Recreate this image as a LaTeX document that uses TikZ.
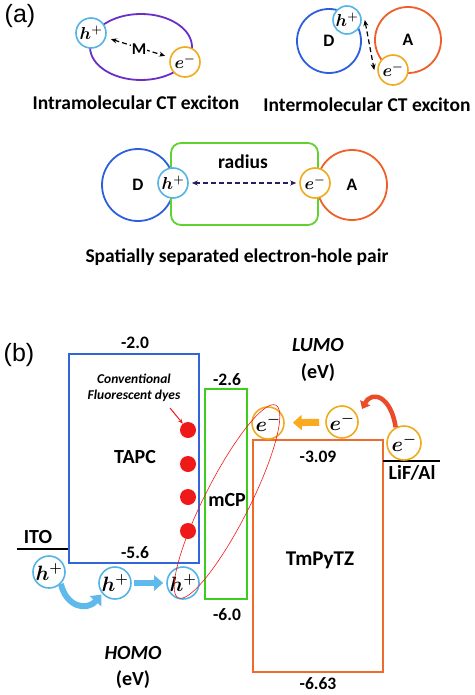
\documentclass[tikz,border=0pt]{standalone}
\usepackage{fontspec}
\setmainfont{Carlito}
\newfontfamily\arialf{Liberation Sans}
\usetikzlibrary{arrows.meta}
\definecolor{holec}{RGB}{85,180,230}
\definecolor{elecc}{RGB}{240,170,30}
\definecolor{purp}{RGB}{105,45,200}
\definecolor{dblue}{RGB}{45,95,220}
\definecolor{aorange}{RGB}{240,95,40}
\definecolor{rgreen}{RGB}{95,210,45}
\definecolor{tapcc}{RGB}{50,100,220}
\definecolor{mcpc}{RGB}{60,205,30}
\definecolor{tmpc}{RGB}{240,105,45}
\definecolor{dotc}{RGB}{240,25,25}
\definecolor{navy}{RGB}{40,30,90}
\definecolor{barc}{RGB}{95,185,235}
\definecolor{oarc}{RGB}{250,170,30}
\definecolor{rcurve}{RGB}{235,75,40}
\begin{document}
\begin{tikzpicture}[x=1pt,y=-1pt,
  hole/.style={circle, draw=holec, line width=1.6pt, fill=white, minimum size=30pt, inner sep=0pt, font=\boldmath\fontsize{18.5}{18.5}\selectfont},
  elec/.style={circle, draw=elecc, line width=1.6pt, fill=white, minimum size=30pt, inner sep=0pt, font=\boldmath\fontsize{18.5}{18.5}\selectfont},
  bighole/.style={hole, minimum size=32pt, font=\boldmath\fontsize{19.5}{19.5}\selectfont},
  bigelec/.style={elec, minimum size=32pt, font=\boldmath\fontsize{19.5}{19.5}\selectfont},
  molec/.style={circle, line width=1.8pt, inner sep=0pt, font=\bfseries\fontsize{17.5}{17.5}\selectfont},
  caption/.style={font=\bfseries\fontsize{19.5}{19.5}\selectfont},
  lbl/.style={font=\bfseries\fontsize{20}{20}\selectfont},
  num/.style={font=\bfseries\fontsize{17.5}{17.5}\selectfont},
  ital/.style={font=\bfseries\itshape\fontsize{20}{20}\selectfont},
  panel/.style={font=\arialf\fontsize{25}{25}\selectfont},
  level/.style={draw, line width=2.4pt, inner sep=0pt},
  dasharrow/.style={line width=1.2pt, dash pattern=on 5pt off 3pt, {Stealth[length=6pt,width=5pt]}-{Stealth[length=6pt,width=5pt]}},
  dot/.style={circle, fill=dotc, minimum size=16pt, inner sep=0pt},
  electrode/.style={line width=2pt, black},
  barrow/.style={barc, line width=6pt, -{Triangle[length=9pt,width=15pt]}},
  oarrow/.style={oarc, line width=7pt, -{Triangle[length=9pt,width=15pt]}},
]
\useasboundingbox (0,0) rectangle (474,695);

% ---------- (a) ----------
\node[panel] (pa) at (20,16) {(a)};

% intramolecular
\draw[purp, line width=1.8pt] (141,47) ellipse [x radius=51pt, y radius=33pt];
\node[hole] (h1) at (91,33) {$h^{+}$};
\node[elec] (e1) at (185,62) {$e^{-}$};
\draw[dasharrow, shorten <=5pt, shorten >=5pt] (h1) -- (e1);
\node[font=\bfseries\fontsize{16.5}{16.5}\selectfont, fill=white, inner sep=0.5pt] (M) at (139,49) {M};
\node[caption] (c1) at (136,103) {Intramolecular CT exciton};

% intermolecular
\node[molec, draw=dblue, minimum size=64pt] (D2) at (329,41) {D};
\node[molec, draw=aorange, minimum size=66pt] (A2) at (408,40) {A};
\node[hole, minimum size=28pt] (h2) at (347,20) {$h^{+}$};
\node[elec] (e2) at (393,70) {$e^{-}$};
\draw[dasharrow] ([xshift=3pt]h2.east) -- ([xshift=-3pt]e2.west);
\node[caption] (c2) at (367,105) {Intermolecular CT exciton};

% spatially separated
\node[molec, draw=dblue, minimum size=72pt] (D3) at (138,185) {D};
\node[molec, draw=aorange, minimum size=70pt] (A3) at (352,185) {A};
\node[draw=rgreen, line width=1.8pt, fill=white, rounded corners=10pt, minimum width=147pt, minimum height=82pt, inner sep=0pt] (gr) at (244.5,184) {};
\node[hole] (h3) at (173,183) {$h^{+}$};
\node[elec] (e3) at (315,183) {$e^{-}$};
\draw[dasharrow, navy, shorten <=3pt, shorten >=3pt] (h3) -- (e3);
\node[font=\bfseries\fontsize{19.5}{19.5}\selectfont] (rad) at (243,162) {radius};
\node[caption] (c3) at (237,257) {Spatially separated electron-hole pair};

% ---------- (b) ----------
\node[panel] (pb) at (19,355) {(b)};

\node[level, draw=tapcc, minimum width=130pt, minimum height=209pt] (tapc) at (134,458.5) {};
\node[level, draw=mcpc, minimum width=42pt, minimum height=210pt] (mcp) at (226,494) {};
\node[level, draw=tmpc, minimum width=130pt, minimum height=232pt] (tmp) at (318,556) {};

\node[num] (n1) at (135,343) {-2.0};
\node[num] (n2) at (227,380) {-2.6};
\node[num] (n3) at (318,457) {-3.09};
\node[num] (n4) at (135,553) {-5.6};
\node[num] (n5) at (227,615) {-6.0};
\node[num] (n6) at (318,684) {-6.63};

\node[lbl] (lt) at (135,457) {TAPC};
\node[lbl] (lm) at (227,500) {mCP};
\node[lbl, font=\bfseries\fontsize{21}{21}\selectfont] (lp) at (320,560) {TmPyTZ};

\node[ital] (lumo) at (318,345) {LUMO};
\node[lbl] (lumoev) at (318,373) {(eV)};
\node[ital] (homo) at (133,653) {HOMO};
\node[lbl] (homoev) at (133,680) {(eV)};

\node[font=\bfseries\itshape\fontsize{13.5}{16}\selectfont, align=center] (conv) at (134,388) {Conventional\\Fluorescent dyes};
\node[dot] (d1) at (188,430) {};
\node[dot] (d2) at (188,464) {};
\node[dot] (d3) at (188,497) {};
\node[dot] (d4) at (188,531) {};
\draw[dotc, line width=1pt, -{Stealth[length=5pt,width=4pt]}] (170,408) -- (d1);

% electrodes
\coordinate (itoL) at (17,549);
\draw[electrode] (itoL) -- (tapc.west |- itoL);
\node[lbl] (ito) at (38,537) {ITO};
\coordinate (lifL) at (383,461);
\coordinate (lifR) at (440,461);
\draw[electrode] (lifL) -- (lifR);
\node[lbl] (lif) at (412,473) {LiF/Al};

% holes
\node[bighole] (hA) at (49,572) {$h^{+}$};
\node[bighole] (hB) at (115,583) {$h^{+}$};
\node[bighole] (hC) at (183,583) {$h^{+}$};
\draw[barrow, shorten <=2pt, shorten >=3pt] (hB) -- (hC);
\draw[barrow, shorten >=1pt] (hA.-45) .. controls (66,606) and (86,612) .. (hB.220);

% electrons
\node[bigelec] (eA) at (268,423) {$e^{-}$};
\node[bigelec] (eB) at (342,422) {$e^{-}$};
\node[bigelec, minimum size=34pt] (eC) at (404,443) {$e^{-}$};
\draw[oarrow, shorten <=6pt, shorten >=8pt] (eB) -- (eA);
\coordinate (rtip) at (362,409);
\draw[rcurve, line width=4.5pt, -{Triangle[length=7pt,width=11pt]}] (eC.118) .. controls (391,396) and (372,390) .. (rtip);

% exciton ellipse
\draw[dotc, line width=0.6pt, rotate around={63.1:(227,501.5)}] (227,501.5) ellipse [x radius=108pt, y radius=22.5pt];
\end{tikzpicture}
\end{document}
